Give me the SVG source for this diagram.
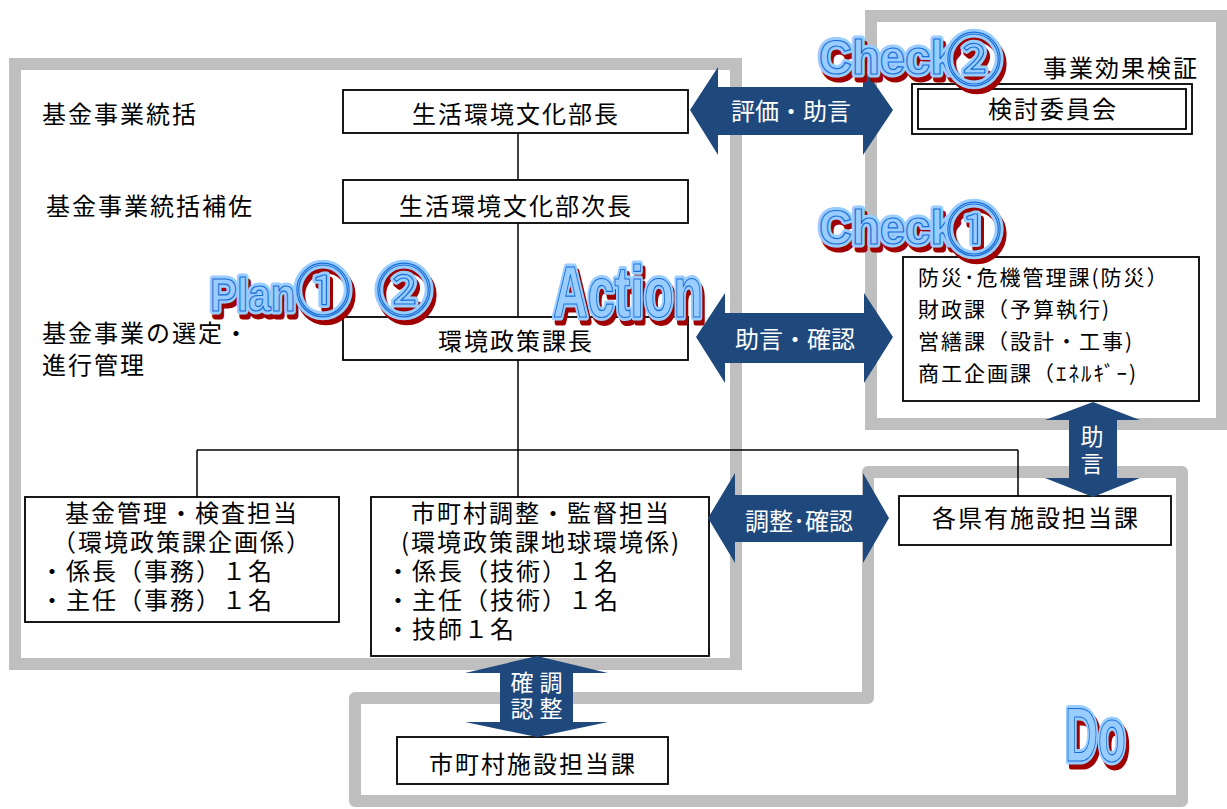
<svg xmlns="http://www.w3.org/2000/svg" xmlns:xlink="http://www.w3.org/1999/xlink" width="1227" height="809" viewBox="0 0 1227 809">
<defs>
<style>
.region{fill:none;stroke:#bfbfbf;stroke-width:12}
.box{fill:#fff;stroke:#000;stroke-width:1.8}
.line{stroke:#000;stroke-width:1.5;fill:none}
.arrow{fill:#1f497d}
.t{font-family:"Noto Sans CJK JP","Noto Sans CJK SC",sans-serif;font-size:24px;letter-spacing:2px;fill:#000}
.ts{font-family:"Noto Sans CJK JP","Noto Sans CJK SC",sans-serif;font-size:21px;letter-spacing:2px;fill:#000}
.tw{font-family:"Noto Sans CJK JP","Noto Sans CJK SC",sans-serif;font-size:24px;fill:#fff}
.tv{font-family:"Noto Sans CJK JP","Noto Sans CJK SC",sans-serif;font-size:23px;fill:#fff;writing-mode:vertical-rl}
.m{text-anchor:middle}
.wa{font-family:"Liberation Sans",Arial,sans-serif;font-weight:bold}
.wc{font-family:"Noto Sans CJK JP","DejaVu Sans",sans-serif;font-weight:normal}
.sh{fill:#a00000;stroke:#a00000;stroke-width:7;stroke-linejoin:round}
.out{fill:#99ccff;stroke:#99ccff;stroke-width:7;stroke-linejoin:round}
.in{fill:#99ccff;stroke:#1a6fd6;stroke-width:1.2;stroke-linejoin:round}
</style>
<text id="wCheck2" class="wa" x="0" y="0" font-size="48">Check</text>
<text id="wCheck1" class="wa" x="0" y="0" font-size="48">Check</text>
<text id="wc1" class="wc" x="0" y="0" font-size="56">①</text>
<text id="wc2" class="wc" x="0" y="0" font-size="56">②</text>
<text id="wPlan" class="wa" x="0" y="0" font-size="47">Plan</text>
<text id="wAction" class="wa" x="0" y="0" font-size="73">Action</text>
<text id="wDo" class="wa" x="0" y="0" font-size="76">Do</text>
</defs>
<rect width="1227" height="809" fill="#fff"/>

<g id="regions">
<rect id="region-plan" class="region" x="15" y="64" width="721" height="600"/>
<rect id="region-check" class="region" x="871" y="16" width="351" height="408"/>
<polygon id="region-do" class="region" stroke-linejoin="round" points="355,801 355,698 868,698 868,472 1182,472 1182,801"/>
</g>

<g id="connectors">
<line class="line" x1="518" y1="133" x2="518" y2="180"/>
<line class="line" x1="518" y1="223" x2="518" y2="317"/>
<line class="line" x1="518" y1="360" x2="518" y2="450"/>
<line class="line" x1="197" y1="450" x2="1018" y2="450"/>
<line class="line" x1="197" y1="450" x2="197" y2="497"/>
<line class="line" x1="518" y1="450" x2="518" y2="497"/>
<line class="line" x1="1018" y1="450" x2="1018" y2="496"/>
</g>

<g id="labels-left">
<text class="t" x="42" y="123">基金事業統括</text>
<text class="t" x="46" y="215">基金事業統括補佐</text>
<text class="t" x="42" y="342">基金事業の選定・<tspan x="42" dy="32">進行管理</tspan></text>
</g>

<g id="node-bucho">
<rect class="box" x="343" y="90" width="345" height="43"/>
<text class="t m" x="516" y="123">生活環境文化部長</text>
</g>
<g id="node-jicho">
<rect class="box" x="343" y="180" width="345" height="43"/>
<text class="t m" x="516" y="215">生活環境文化部次長</text>
</g>
<g id="node-kacho">
<rect class="box" x="343" y="317" width="345" height="43"/>
<text class="t m" x="516" y="350">環境政策課長</text>
</g>
<g id="node-kikin">
<rect class="box" x="25" y="497" width="314" height="125"/>
<text class="t" x="182" y="522"><tspan class="m">基金管理・検査担当</tspan><tspan class="m" x="182" dy="29">（環境政策課企画係）</tspan><tspan x="40" dy="29">・係長（事務）１名</tspan><tspan x="40" dy="29">・主任（事務）１名</tspan></text>
</g>
<g id="node-shichoson-chosei">
<rect class="box" x="371" y="497" width="338" height="159"/>
<text class="t" x="541" y="522"><tspan class="m">市町村調整・監督担当</tspan><tspan class="m" x="541" dy="29">(環境政策課地球環境係)</tspan><tspan x="386" dy="29">・係長（技術）１名</tspan><tspan x="386" dy="29">・主任（技術）１名</tspan><tspan x="386" dy="29">・技師１名</tspan></text>
</g>
<g id="node-kakken">
<rect class="box" x="899" y="496" width="272" height="49"/>
<text class="t m" x="1036" y="527">各県有施設担当課</text>
</g>
<g id="node-shichoson-shisetsu">
<rect class="box" x="397" y="737" width="271" height="47"/>
<text class="t m" x="533" y="773">市町村施設担当課</text>
</g>
<g id="node-kento">
<text class="t" x="1043" y="77">事業効果検証</text>
<rect class="box" x="912" y="84" width="280" height="50"/>
<rect class="box" x="918" y="89" width="268" height="40"/>
<text class="t m" x="1053" y="118">検討委員会</text>
</g>
<g id="node-kakuka">
<rect class="box" x="903" y="257" width="296" height="144"/>
<text class="ts" x="918" y="285">防災･危機管理課(防災）<tspan x="918" dy="32">財政課（予算執行)</tspan><tspan x="918" dy="32">営繕課（設計・工事)</tspan><tspan x="918" dy="32">商工企画課（ｴﾈﾙｷﾞｰ)</tspan></text>
</g>

<g id="arrows">
<g id="arrow-hyoka">
<polygon class="arrow" points="690,110 718,67 718,87 863,87 863,67 893,110 863,155 863,135 718,135 718,155"/>
<text class="tw m" x="791" y="120">評価・助言</text>
</g>
<g id="arrow-jogen-kakunin">
<polygon class="arrow" points="696,337 725,293 725,313 864,313 864,293 893,337 864,383 864,363 725,363 725,383"/>
<text class="tw m" x="795" y="348">助言・確認</text>
</g>
<g id="arrow-chosei-kakunin">
<polygon class="arrow" points="708,518 735,473 735,495 863,495 863,473 889,518 863,563 863,542 735,542 735,563"/>
<text class="tw m" x="799" y="530">調整･確認</text>
</g>
<g id="arrow-jogen">
<polygon class="arrow" points="1093,402 1140,420 1117,420 1117,478 1140,478 1093,497 1045,478 1069,478 1069,420 1045,420"/>
<text class="tv" x="1092" y="425" letter-spacing="4">助言</text>
</g>
<g id="arrow-kakunin-chosei">
<polygon class="arrow" points="537,656 608,673 573,673 573,722 608,722 537,737 465,722 500,722 500,673 465,673"/>
<text class="tv" x="522" y="671" letter-spacing="3">確認</text>
<text class="tv" x="551" y="671" letter-spacing="3">調整</text>
</g>
</g>

<g id="wordart">
<g id="wa-check2">
<g transform="translate(819,74) scale(0.95,1)">
<use href="#wCheck2" class="sh" transform="translate(3,5)"/>
<use href="#wCheck2" class="out"/>
<use href="#wCheck2" class="in"/>
</g>
<g transform="translate(946,80)">
<use href="#wc2" class="sh" transform="translate(3,5)"/>
<use href="#wc2" class="out"/>
<use href="#wc2" class="in"/>
</g>
</g>
<g id="wa-check1">
<g transform="translate(819,244) scale(0.95,1)">
<use href="#wCheck1" class="sh" transform="translate(3,5)"/>
<use href="#wCheck1" class="out"/>
<use href="#wCheck1" class="in"/>
</g>
<g transform="translate(946,250)">
<use href="#wc1" class="sh" transform="translate(3,5)"/>
<use href="#wc1" class="out"/>
<use href="#wc1" class="in"/>
</g>
</g>
<g id="wa-plan">
<g transform="translate(210,311) scale(0.86,1)">
<use href="#wPlan" class="sh" transform="translate(3,5)"/>
<use href="#wPlan" class="out"/>
<use href="#wPlan" class="in"/>
</g>
<g transform="translate(295,311)">
<use href="#wc1" class="sh" transform="translate(3,5)"/>
<use href="#wc1" class="out"/>
<use href="#wc1" class="in"/>
</g>
<g transform="translate(376,311)">
<use href="#wc2" class="sh" transform="translate(3,5)"/>
<use href="#wc2" class="out"/>
<use href="#wc2" class="in"/>
</g>
</g>
<g id="wa-action">
<g transform="translate(553,317) scale(0.66,1)">
<use href="#wAction" class="sh" transform="translate(4,5)"/>
<use href="#wAction" class="out"/>
<use href="#wAction" class="in"/>
</g>
</g>
<g id="wa-do">
<g transform="translate(1065,761) scale(0.6,1)">
<use href="#wDo" class="sh" transform="translate(5,5)"/>
<use href="#wDo" class="out"/>
<use href="#wDo" class="in"/>
</g>
</g>
</g>
</svg>
